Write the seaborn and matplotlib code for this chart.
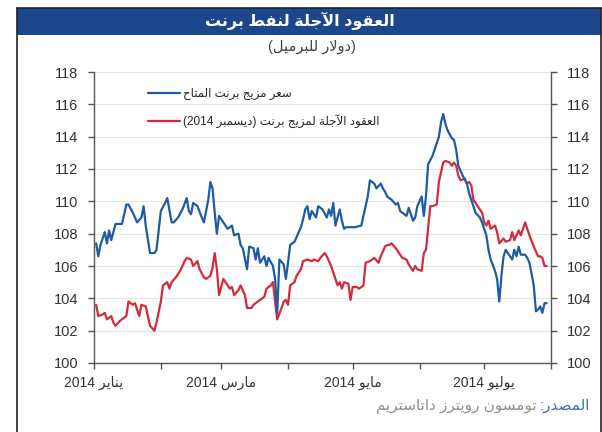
import re
import pandas as pd
import matplotlib
matplotlib.use("Agg")
import matplotlib.pyplot as plt
from matplotlib.patches import Rectangle
from matplotlib.lines import Line2D
import seaborn as sns

# ---- data (days since 1 Jan 2014, price in USD/bbl) ----
spot_days = [1, 2, 3, 5, 6, 7, 8, 10, 12, 13, 15, 16, 18, 20, 22, 23, 24, 26, 28, 29,
             31, 33, 34, 36, 37, 39, 41, 43, 44, 45, 46, 48, 50, 51, 53, 54, 55, 56, 57, 58,
             60, 62, 64, 65, 67, 68, 69, 71, 72, 74, 75, 76, 77, 79, 80, 81, 83, 84, 85, 86,
             88, 89, 90, 91, 93, 94, 96, 97, 98, 99, 100, 101, 103, 104, 106, 108, 109, 110, 111, 112,
             114, 115, 116, 117, 119, 121, 124, 125, 126, 127, 128, 130, 131, 133, 134, 135, 136, 138, 140, 141,
             142, 143, 145, 146, 148, 149, 150, 151, 152, 153, 154, 155, 157, 158, 160, 161, 162, 163, 164, 166,
             167, 168, 169, 171, 173, 174, 176, 177, 179, 180, 182, 183, 184, 186, 187, 188, 189, 190, 191, 193,
             194, 195, 196, 197, 198, 200, 201, 202, 204, 205, 206, 207, 208, 209, 210]
spot_price = [107.4, 106.6, 107.3, 108.1, 107.4, 108.2, 107.6, 108.6, 108.6, 108.6, 109.8, 109.8, 109.3, 108.7, 109.0, 109.7, 108.5, 106.8, 106.8, 107.0,
              109.4, 109.9, 110.2, 108.7, 108.7, 109.0, 109.5, 110.2, 109.4, 109.2, 109.9, 109.7, 109.0, 108.7, 110.1, 111.2, 110.8, 109.3, 108.0, 109.1,
              108.7, 108.3, 108.5, 107.9, 108.0, 107.3, 107.1, 105.8, 107.2, 107.1, 106.4, 107.1, 106.2, 106.6, 106.0, 106.5, 106.0, 105.2, 103.1, 106.4,
              106.1, 105.2, 106.2, 107.3, 107.5, 107.8, 108.4, 108.9, 109.5, 109.7, 108.9, 109.4, 109.0, 109.7, 109.5, 109.0, 109.5, 109.1, 109.9, 108.5,
              109.5, 108.8, 108.3, 108.4, 108.4, 108.4, 108.5, 109.1, 109.7, 110.3, 111.3, 111.1, 110.8, 111.1, 110.8, 110.6, 110.3, 110.1, 109.8, 109.9,
              109.4, 109.3, 109.1, 109.6, 108.8, 109.0, 109.7, 110.0, 110.3, 109.1, 110.3, 112.3, 112.8, 113.2, 114.0, 114.9, 115.4, 114.8, 114.4, 113.9,
              113.8, 113.2, 112.2, 111.6, 111.1, 110.5, 109.7, 109.3, 109.0, 108.7, 107.9, 107.0, 106.4, 105.7, 105.2, 103.8, 105.4, 106.6, 107.0, 106.6,
              106.4, 107.0, 106.6, 107.2, 106.7, 106.7, 106.5, 106.2, 104.8, 103.2, 103.3, 103.5, 103.1, 103.7, 103.7]

fut_days = [1, 2, 4, 5, 6, 8, 9, 10, 12, 13, 15, 16, 18, 19, 21, 22, 24, 25, 26, 28,
            29, 31, 32, 34, 35, 36, 38, 40, 42, 43, 45, 46, 48, 49, 51, 52, 54, 55, 56, 57,
            58, 59, 60, 62, 63, 64, 65, 67, 68, 70, 71, 73, 74, 76, 77, 79, 80, 82, 83, 84,
            85, 87, 88, 89, 90, 91, 93, 94, 96, 97, 99, 101, 102, 104, 105, 107, 108, 110, 111, 113,
            114, 115, 116, 118, 119, 120, 122, 123, 125, 126, 128, 130, 132, 133, 135, 136, 137, 138, 140, 142,
            143, 145, 146, 148, 149, 150, 152, 153, 154, 156, 157, 159, 160, 162, 163, 165, 166, 167, 168, 169,
            170, 172, 173, 174, 175, 176, 178, 180, 181, 182, 183, 184, 186, 187, 188, 190, 191, 193, 194, 195,
            197, 198, 199, 200, 201, 202, 204, 206, 207, 208, 209, 210]
fut_price = [103.6, 102.9, 103.0, 103.1, 102.7, 102.9, 102.5, 102.3, 102.6, 102.7, 102.9, 103.8, 103.6, 103.7, 102.9, 103.6, 103.5, 102.9, 102.3, 102.0,
             102.5, 103.8, 104.8, 105.0, 104.6, 105.0, 105.3, 105.7, 106.3, 106.5, 106.4, 106.0, 106.3, 105.8, 105.3, 105.2, 105.4, 105.9, 106.8, 105.8,
             104.2, 104.7, 105.2, 104.8, 104.6, 104.7, 104.2, 104.5, 104.8, 104.2, 103.4, 103.4, 103.6, 103.8, 103.9, 104.1, 104.6, 104.8, 105.0, 103.8,
             102.7, 103.4, 103.8, 103.9, 103.6, 104.8, 105.0, 105.4, 105.8, 106.3, 106.4, 106.3, 106.4, 106.3, 106.5, 106.8, 106.6, 106.0, 105.6, 104.8,
             105.0, 104.6, 105.0, 104.9, 103.9, 104.7, 104.7, 104.6, 104.8, 106.2, 106.3, 106.5, 106.2, 106.6, 107.2, 107.3, 107.3, 107.4, 107.1, 106.7,
             106.5, 106.4, 106.1, 105.7, 106.0, 105.8, 105.7, 106.8, 107.0, 109.7, 109.7, 109.8, 111.2, 112.4, 112.5, 112.4, 112.2, 112.4, 112.2, 111.6,
             111.3, 111.4, 111.1, 111.2, 111.0, 110.1, 109.7, 109.3, 108.7, 108.5, 108.8, 108.3, 108.5, 108.1, 107.4, 107.7, 107.5, 107.6, 108.1, 107.6,
             108.2, 107.9, 108.3, 108.7, 108.3, 107.9, 107.2, 106.6, 106.6, 106.5, 106.0, 106.0]

series_names = ["سعر مزيج برنت المتاح", "العقود الآجلة لمزيج برنت (ديسمبر 2014)"]
series_colors = ["#1d5ba4", "#d42a3c"]
month_labels = ["يناير 2014", "", "مارس 2014", "", "مايو 2014", "", "يوليو 2014", ""]
y_ticks = list(range(100, 119, 2))
title = "العقود الآجلة لنفط برنت"
subtitle = "(دولار للبرميل)"
source_head = "المصدر:"
source_body = "تومسون رويترز داتاستريم"

# ---- tiny Arabic shaper (matplotlib has no bidi / joining support) ----
FORMS = {
    'ا': (0xFE8D, 0xFE8E, None, None), 'آ': (0xFE81, 0xFE82, None, None),
    'ب': (0xFE8F, 0xFE90, 0xFE91, 0xFE92), 'ة': (0xFE93, 0xFE94, None, None),
    'ت': (0xFE95, 0xFE96, 0xFE97, 0xFE98), 'ج': (0xFE9D, 0xFE9E, 0xFE9F, 0xFEA0),
    'ح': (0xFEA1, 0xFEA2, 0xFEA3, 0xFEA4), 'د': (0xFEA9, 0xFEAA, None, None),
    'ر': (0xFEAD, 0xFEAE, None, None), 'ز': (0xFEAF, 0xFEB0, None, None),
    'س': (0xFEB1, 0xFEB2, 0xFEB3, 0xFEB4), 'ص': (0xFEB9, 0xFEBA, 0xFEBB, 0xFEBC),
    'ط': (0xFEC1, 0xFEC2, 0xFEC3, 0xFEC4), 'ع': (0xFEC9, 0xFECA, 0xFECB, 0xFECC),
    'ف': (0xFED1, 0xFED2, 0xFED3, 0xFED4), 'ق': (0xFED5, 0xFED6, 0xFED7, 0xFED8),
    'ل': (0xFEDD, 0xFEDE, 0xFEDF, 0xFEE0), 'م': (0xFEE1, 0xFEE2, 0xFEE3, 0xFEE4),
    'ن': (0xFEE5, 0xFEE6, 0xFEE7, 0xFEE8), 'و': (0xFEED, 0xFEEE, None, None),
    'ي': (0xFEF1, 0xFEF2, 0xFEF3, 0xFEF4),
    '\uFEFB': (0xFEFB, 0xFEFC, None, None), '\uFEF5': (0xFEF5, 0xFEF6, None, None),
}


def ar(s):
    s = s.replace('لا', '\uFEFB').replace('لآ', '\uFEF5')
    out = []
    for i, ch in enumerate(s):
        if ch not in FORMS:
            out.append(ch)
            continue
        f = FORMS[ch]
        prev = s[i - 1] if i > 0 else ''
        nxt = s[i + 1] if i + 1 < len(s) else ''
        jp = prev in FORMS and FORMS[prev][2] is not None
        jn = f[2] is not None and nxt in FORMS
        code = f[3] if (jp and jn) else f[1] if jp else f[2] if jn else f[0]
        out.append(chr(code))
    runs = re.findall(r'\d+|\D', ''.join(out))
    mirror = {'(': ')', ')': '('}
    return ''.join(mirror.get(r, r) for r in reversed(runs))


# ---- build table ----
start = pd.Timestamp("2014-01-01")
labels = [ar(n) for n in series_names]
df = pd.concat([
    pd.DataFrame({"date": start + pd.to_timedelta(fut_days, unit="D"), "price": fut_price, "series": labels[1]}),
    pd.DataFrame({"date": start + pd.to_timedelta(spot_days, unit="D"), "price": spot_price, "series": labels[0]}),
])

sns.set_style("white")
plt.rcParams["font.family"] = ["Liberation Sans", "DejaVu Sans"]

fig = plt.figure(figsize=(6.02, 4.32), dpi=100)
W, H = 602, 432
ax = fig.add_axes([94 / W, 1 - 363 / H, (551 - 94) / W, (363 - 72) / H])

sns.lineplot(data=df, x="date", y="price", hue="series", hue_order=[labels[1], labels[0]],
             palette=dict(zip(labels, series_colors)), linewidth=1.6, ax=ax, legend=True)

ax.set_xlim(pd.Timestamp("2014-01-01"), pd.Timestamp("2014-08-01"))
ax.set_ylim(100, 118)
ax.set_yticks(y_ticks)
ax.set_xticks(pd.date_range("2014-01-01", "2014-08-01", freq="MS"))
ax.set_xticklabels([ar(m) for m in month_labels])
ax.set_xlabel("")
ax.set_ylabel("")
ax.grid(axis="y", color="#e4e4e4", linewidth=0.8)
ax.set_axisbelow(True)
for side in ["left", "right", "bottom"]:
    ax.spines[side].set_visible(True)
    ax.spines[side].set_color("#555555")
    ax.spines[side].set_linewidth(1.0)
ax.spines["top"].set_visible(False)
ax.tick_params(axis="y", which="both", left=True, right=True, labelleft=True, labelright=True,
               direction="out", length=4.5, width=1.0, color="#555555", pad=7,
               labelsize=10.5, labelcolor="#333333")
ax.tick_params(axis="x", bottom=True, direction="out", length=4, width=1.0, color="#555555",
               pad=5, labelsize=10, labelcolor="#333333")

handles, lbls = ax.get_legend_handles_labels()
order = [lbls.index(labels[0]), lbls.index(labels[1])]
ax.legend([handles[i] for i in order], [lbls[i] for i in order],
          loc="upper left", bbox_to_anchor=(148 / W, 1 - 88 / H), bbox_transform=fig.transFigure,
          frameon=False, fontsize=8.5, handlelength=2.7, handletextpad=0.25,
          labelspacing=1.2, borderpad=0, borderaxespad=0)

# ---- frame, banner, titles ----
fig.add_artist(Rectangle((17 / W, 1 - 35 / H), (601 - 17) / W, 27 / H,
                         transform=fig.transFigure, facecolor="#1b478c", edgecolor="none"))
fig.add_artist(Line2D([17 / W, 17 / W], [0, 1 - 8 / H], transform=fig.transFigure, color="#222222", lw=1.2))
fig.add_artist(Line2D([600.5 / W, 600.5 / W], [0, 1 - 8 / H], transform=fig.transFigure, color="#222222", lw=1.2))
fig.add_artist(Line2D([17 / W, 601 / W], [1 - 8 / H, 1 - 8 / H], transform=fig.transFigure, color="#222222", lw=1.2))

fig.text(300 / W, 1 - 21 / H, ar(title), ha="center", va="center", color="white",
         fontsize=11.5, fontweight="bold")
fig.text(312 / W, 1 - 47 / H, ar(subtitle), ha="center", va="center", color="#444444", fontsize=10.5)

head = fig.text(590 / W, 1 - 406 / H, ar(source_head), ha="right", va="center",
                color="#3d6fb5", fontsize=11)
fig.canvas.draw()
bb = head.get_window_extent()
x_left = fig.transFigure.inverted().transform((bb.x0, 0))[0]
fig.text(x_left - 3 / W, 1 - 406 / H, ar(source_body), ha="right", va="center",
         color="#8e8e8e", fontsize=11)

fig.savefig("out.png", dpi=100)
